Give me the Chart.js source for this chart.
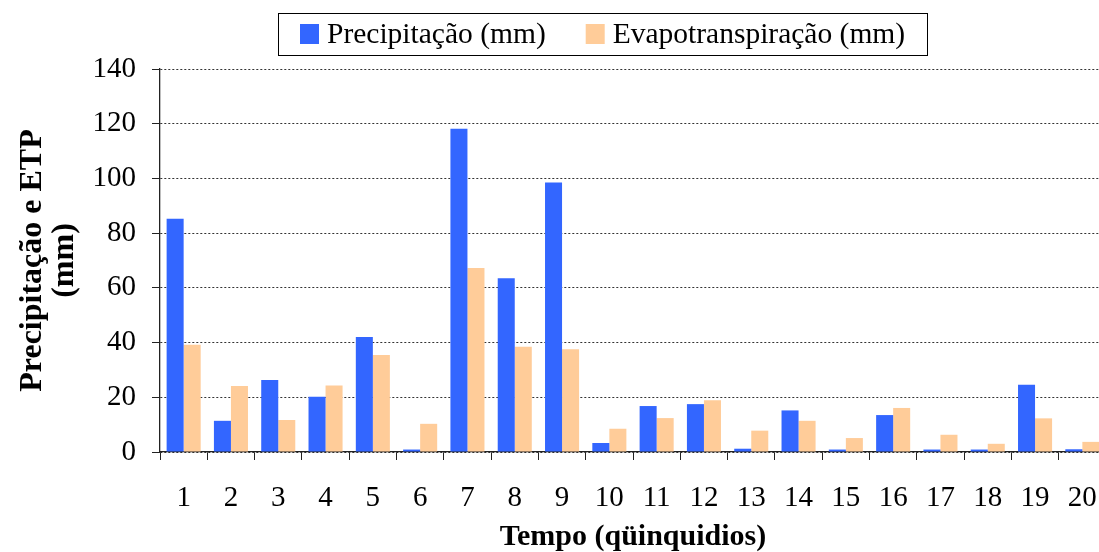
<!DOCTYPE html>
<html lang="pt">
<head>
<meta charset="utf-8">
<title>Precipitação e ETP por qüinquidio</title>
<script src="https://cdn.jsdelivr.net/npm/chart.js@4/dist/chart.umd.min.js"></script>
<style>
    html, body { margin: 0; padding: 0; background: #fff; overflow: hidden; }
    #chart { display: block; width: 1110px; height: 552px; }
</style>
</head>
<body>
<canvas id="chart" width="1110" height="552"></canvas>
<script>
/* ----------------------------------------------------------
   DATA
---------------------------------------------------------- */

// Qüinquidios (5-day periods)
const periods = ['1', '2', '3', '4', '5', '6', '7', '8', '9', '10',
                 '11', '12', '13', '14', '15', '16', '17', '18', '19', '20'];

// Precipitação (mm) per period
const precipitacao = [85.3, 11.4, 26.3, 20.2, 42.0, 0.9, 118.2, 63.5, 98.5, 3.3,
                      16.8, 17.5, 1.2, 15.2, 0.9, 13.5, 0.9, 0.9, 24.6, 1.0];

// Evapotranspiração (mm) per period
const evapotranspiracao = [39.2, 24.1, 11.7, 24.3, 35.5, 10.3, 67.3, 38.5, 37.6, 8.5,
                           12.4, 18.9, 7.8, 11.4, 5.1, 16.1, 6.3, 3.0, 12.3, 3.7];

// Y axis tick values
const yTicks = [0, 20, 40, 60, 80, 100, 120, 140];

/* ----------------------------------------------------------
   STYLE
---------------------------------------------------------- */
const SERIF = '"Liberation Serif", "Times New Roman", serif';
const BLUE = '#3366FF';
const PEACH = '#FFCC99';

// Boxed legend drawn at the top, above the plot area
const boxedLegend = {
    id: 'boxedLegend',
    afterDraw(chart) {
        const ctx = chart.ctx;
        const box = { left: 278, top: 13, right: 927, bottom: 55 };
        const midY = (box.top + box.bottom) / 2;

        ctx.save();
        ctx.strokeStyle = '#000';
        ctx.lineWidth = 1;
        ctx.strokeRect(box.left + 0.5, box.top + 0.5, box.right - box.left, box.bottom - box.top);

        ctx.font = '29.5px ' + SERIF;
        ctx.textBaseline = 'middle';

        let x = 300;
        chart.data.datasets.forEach((ds) => {
            ctx.fillStyle = ds.backgroundColor;
            ctx.fillRect(x, midY - 10, 19, 20);
            x += 27;
            ctx.fillStyle = '#000';
            ctx.fillText(ds.label, x, midY + 1);
            x += ctx.measureText(ds.label).width + 40;
        });
        ctx.restore();
    }
};

/* ----------------------------------------------------------
   CHART
   Fixed-size canvas (a little wider than the window, so the
   last category runs to the right edge).
---------------------------------------------------------- */
new Chart(document.getElementById('chart').getContext('2d'), {
    type: 'bar',
    data: {
        labels: periods,
        datasets: [
            {
                label: 'Precipitação (mm)',
                data: precipitacao,
                backgroundColor: BLUE,
                borderWidth: 0
            },
            {
                label: 'Evapotranspiração (mm)',
                data: evapotranspiracao,
                backgroundColor: PEACH,
                borderWidth: 0
            }
        ]
    },
    options: {
        responsive: false,
        animation: false,
        devicePixelRatio: 1,
        datasets: {
            bar: { categoryPercentage: 0.72, barPercentage: 1.0 }
        },
        layout: { padding: { top: 69, left: 0, right: 4, bottom: 0 } },
        plugins: {
            legend: { display: false },
            tooltip: { enabled: false }
        },
        scales: {
            x: {
                offset: true,
                border: { display: true, color: '#222', width: 1.3 },
                grid: {
                    offset: true,
                    drawOnChartArea: false,
                    drawTicks: true,
                    tickLength: 8,
                    color: '#222'
                },
                ticks: {
                    color: '#000',
                    padding: 21,
                    maxRotation: 0,
                    autoSkip: false,
                    font: { family: SERIF, size: 29 }
                },
                title: {
                    display: true,
                    text: 'Tempo (qüinquidios)',
                    color: '#000',
                    padding: 0,
                    font: { family: SERIF, size: 30, weight: 'bold', lineHeight: 1.0 }
                },
                afterFit: (scale) => {
                    scale.height = 100;
                    // labels sit inside their categories; no extra side padding needed
                    scale.paddingLeft = 0;
                    scale.paddingRight = 0;
                }
            },
            y: {
                min: 0,
                max: 140,
                afterBuildTicks: (scale) => {
                    scale.ticks = yTicks.map((v) => ({ value: v }));
                },
                // solid axis line; border.dash styles the dashed grid lines
                border: { display: true, color: '#222', width: 1.3, dash: [2, 2] },
                grid: {
                    color: '#333',
                    lineWidth: 1,
                    tickLength: 8,
                    tickColor: '#222',
                    tickBorderDash: []
                },
                ticks: {
                    color: '#000',
                    padding: 16,
                    font: { family: SERIF, size: 29 }
                },
                title: {
                    display: true,
                    text: ['Precipitação e ETP', '(mm)'],
                    color: '#000',
                    padding: { top: 17, bottom: 0 },
                    font: { family: SERIF, size: 32, weight: 'bold', lineHeight: 1.0 }
                },
                afterFit: (scale) => { scale.width = 160; }
            }
        }
    },
    plugins: [boxedLegend]
});
</script>
</body>
</html>
